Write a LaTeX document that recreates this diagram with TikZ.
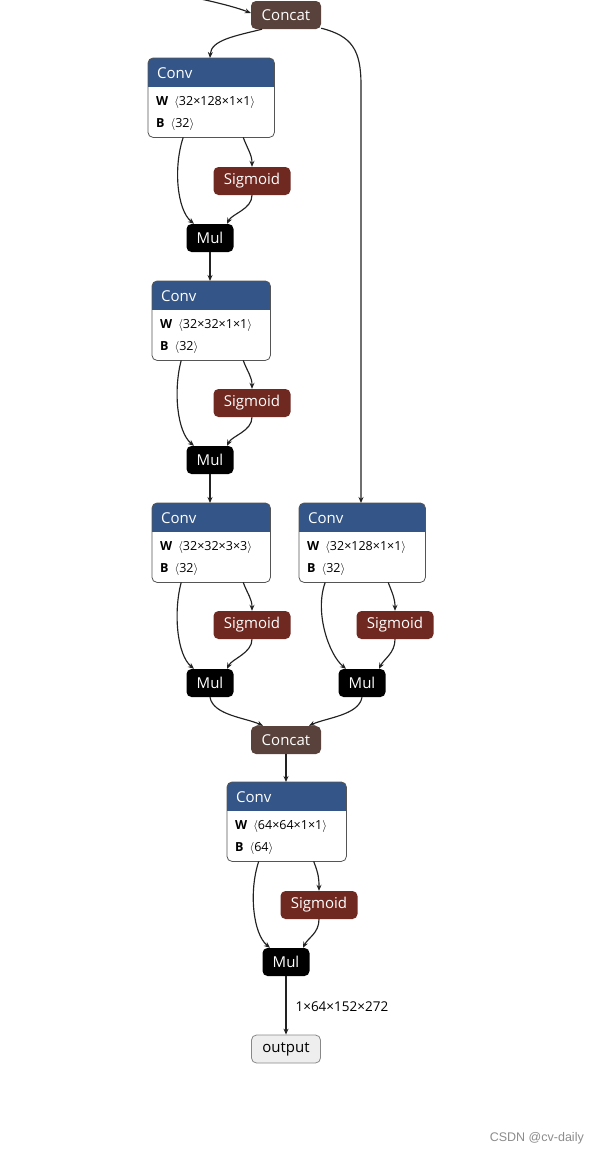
\documentclass[tikz,border=0pt]{standalone}
\usepackage{fontspec}
\setmainfont{Open Sans}
\newfontfamily\wmfont{Liberation Sans}
\usetikzlibrary{arrows.meta,calc}
\definecolor{convblue}{HTML}{335588}
\definecolor{sigred}{HTML}{702921}
\definecolor{catbrown}{HTML}{59423B}
\definecolor{edgecol}{HTML}{222222}
\definecolor{frame}{HTML}{555555}
\definecolor{outgray}{HTML}{EEEEEE}
\definecolor{outborder}{HTML}{888888}
\definecolor{wm}{HTML}{8C8C8C}
\newcommand\lA{$\langle$}
\newcommand\rA{$\rangle$}
\newcommand\convblock[6]{%
  \node[convframe, minimum width=#4, minimum height=79, anchor=north west] (#1) at (#2,#3) {};
  \begin{scope}
    \clip[rounded corners=5pt] (#1.south west) rectangle (#1.north east);
    \fill[convblue] (#1.north west) rectangle ($(#1.north east)+(0,29)$);
  \end{scope}
  \draw[draw=frame, line width=0.8pt, rounded corners=5pt] (#1.south west) rectangle (#1.north east);
  \node[hdr, anchor=west] (#1h) at ($(#1.north west)+(9,15)$) {Conv};
  \node[attr, anchor=west] (#1w) at ($(#1.north west)+(8,44)$) {\textbf{W}\hspace{6pt}\lA#5\rA};
  \node[attr, anchor=west] (#1b) at ($(#1.north west)+(8,66)$) {\textbf{B}\hspace{6pt}\lA#6\rA};
}
\tikzset{
  op/.style={rounded corners=5pt, minimum height=28, inner sep=0pt, text=white,
    font=\fontsize{15}{17}\selectfont},
  catn/.style={op, fill=catbrown, minimum width=70},
  sign/.style={op, fill=sigred, minimum width=77},
  muln/.style={op, fill=black, minimum width=47},
  outn/.style={op, fill=outgray, draw=outborder, line width=0.8pt, text=black, minimum width=69},
  convframe/.style={inner sep=0pt, fill=white},
  hdr/.style={inner sep=0pt, text=white, font=\fontsize{15}{17}\selectfont},
  attr/.style={inner sep=0pt, text=black, font=\fontsize{12.5}{14}\selectfont},
  edge/.style={draw=edgecol, line width=1.15pt, -{Stealth[length=6pt,width=5pt]}},
}
\begin{document}
\begin{tikzpicture}[x=1pt,y=-1pt]
\useasboundingbox[fill=white] (0,0) rectangle (598,1154);

% nodes
\node[catn] (cat1) at (286,15) {Concat};
\convblock{c1}{148}{58}{126}{32×128×1×1}{32}
\node[sign] (s1) at (252,181) {Sigmoid};
\node[muln] (m1) at (210,238) {Mul};
\convblock{c2}{152}{281}{118}{32×32×1×1}{32}
\node[sign] (s2) at (252,403) {Sigmoid};
\node[muln] (m2) at (210,460) {Mul};
\convblock{c3}{152}{503}{118}{32×32×3×3}{32}
\convblock{c4}{299}{503}{126}{32×128×1×1}{32}
\node[sign] (s3) at (252,625) {Sigmoid};
\node[sign] (s4) at (395,625) {Sigmoid};
\node[muln] (m3) at (210,683) {Mul};
\node[muln] (m4) at (362,683) {Mul};
\node[catn] (cat2) at (286,740) {Concat};
\convblock{c5}{227}{782}{119}{64×64×1×1}{64}
\node[sign] (s5) at (319,905) {Sigmoid};
\node[muln] (m5) at (286,962) {Mul};
\node[outn] (out) at (286,1049) {output};
\coordinate (inA) at (196,-2);

% edges
\draw[edge] (inA) .. controls (220,3) and (238,8) .. ($(cat1.west)+(0,-2)$);
\draw[edge] ($(cat1.south)+(-24,0)$) .. controls (235,36) and (211,40) .. (c1.north -| m1);
\draw[edge] ($(cat1.south east)+(0,-1)$) .. controls (352,36) and (361,50) .. (361,85) -- ($(c4.north west)+(62,0)$);

\draw[edge] ($(c1.south)+(32,0)$) .. controls ($(c1.south)+(37,13)$) and ($(s1.north)+(0,-12)$) .. (s1.north);
\draw[edge] ($(c1.south)+(-28,0)$) .. controls ($(c1.south)+(-38,30)$) and ($(m1.north)+(-33,-14)$) .. ($(m1.north)+(-16,0)$);
\draw[edge] (s1.south) .. controls ($(s1.south)+(0,14)$) and ($(m1.north)+(22,-10)$) .. ($(m1.north)+(17,0)$);
\draw[edge] (m1.south) -- (c2.north -| m1);

\draw[edge] ($(c2.south)+(32,0)$) .. controls ($(c2.south)+(37,13)$) and ($(s2.north)+(0,-12)$) .. (s2.north);
\draw[edge] ($(c2.south)+(-30,0)$) .. controls ($(c2.south)+(-38,30)$) and ($(m2.north)+(-33,-14)$) .. ($(m2.north)+(-16,0)$);
\draw[edge] (s2.south) .. controls ($(s2.south)+(0,14)$) and ($(m2.north)+(22,-10)$) .. ($(m2.north)+(17,0)$);
\draw[edge] (m2.south) -- (c3.north -| m2);

\draw[edge] ($(c3.south)+(32,0)$) .. controls ($(c3.south)+(37,13)$) and ($(s3.north)+(0,-12)$) .. (s3.north);
\draw[edge] ($(c3.south)+(-30,0)$) .. controls ($(c3.south)+(-38,30)$) and ($(m3.north)+(-33,-14)$) .. ($(m3.north)+(-16,0)$);
\draw[edge] (s3.south) .. controls ($(s3.south)+(0,14)$) and ($(m3.north)+(22,-10)$) .. ($(m3.north)+(17,0)$);

\draw[edge] ($(c4.south)+(26,0)$) .. controls ($(c4.south)+(31,13)$) and ($(s4.north)+(0,-12)$) .. (s4.north);
\draw[edge] ($(c4.south)+(-37,0)$) .. controls ($(c4.south)+(-48,30)$) and ($(m4.north)+(-33,-14)$) .. ($(m4.north)+(-16,0)$);
\draw[edge] (s4.south) .. controls ($(s4.south)+(0,14)$) and ($(m4.north)+(22,-10)$) .. ($(m4.north)+(17,0)$);

\draw[edge] (m3.south) .. controls ($(m3.south)+(3,18)$) and ($(cat2.north)+(-40,-8)$) .. ($(cat2.north)+(-23,0)$);
\draw[edge] (m4.south) .. controls ($(m4.south)+(-3,18)$) and ($(cat2.north)+(40,-8)$) .. ($(cat2.north)+(23,0)$);
\draw[edge] (cat2.south) -- (c5.north -| cat2);

\draw[edge] ($(c5.south)+(27,0)$) .. controls ($(c5.south)+(32,13)$) and ($(s5.north)+(0,-12)$) .. (s5.north);
\draw[edge] ($(c5.south)+(-28,0)$) .. controls ($(c5.south)+(-38,30)$) and ($(m5.north)+(-33,-14)$) .. ($(m5.north)+(-16,0)$);
\draw[edge] (s5.south) .. controls ($(s5.south)+(0,14)$) and ($(m5.north)+(22,-10)$) .. ($(m5.north)+(17,0)$);
\draw[edge] (m5.south) -- node[right=9pt, pos=0.52, font=\fontsize{13.5}{15}\selectfont, text=black, inner sep=0pt] (shp) {1×64×152×272} (out.north);

\node[anchor=east, text=wm, font=\wmfont\fontsize{12.5}{14}\selectfont, inner sep=0pt] (wmk) at (584,1138) {CSDN @cv-daily};
\end{tikzpicture}
\end{document}
